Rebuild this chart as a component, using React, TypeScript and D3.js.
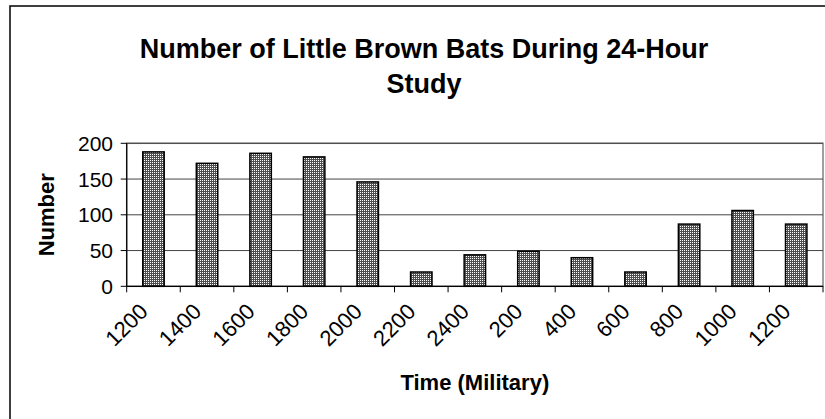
import React from "react";
import * as d3 from "d3";

const categories = ["1200", "1400", "1600", "1800", "2000", "2200", "2400", "200", "400", "600", "800", "1000", "1200 "];
const values = [188, 172, 186, 181, 146, 20, 44, 49, 40, 20, 87, 106, 87];
const yTicks = [0, 50, 100, 150, 200];
const titleLines = ["Number of Little Brown Bats During 24-Hour", "Study"];
const xTitle = "Time (Military)";
const yTitle = "Number";

const W = 825;
const H = 419;
const left = 126.7;
const right = 823;
const top = 143.3;
const bottom = 286.3;
const font = "'Liberation Sans', Arial, sans-serif";

export default function App() {
  const x = d3.scaleBand<string>().domain(categories).range([left, right]).paddingInner(0.6).paddingOuter(0.3);
  const xb = d3.scaleBand<string>().domain(categories).range([left, right]);
  const y = d3.scaleLinear().domain([0, 200]).range([bottom, top]);
  const boundaries = d3.range(categories.length + 1).map((i) => left + i * xb.step());

  return (
    <svg width={W} height={H} style={{ position: "absolute", left: 0, top: 0, background: "#fff" }}>
      <defs>
        <pattern id="dots" width={2} height={2} patternUnits="userSpaceOnUse">
          <rect width={2} height={2} fill="#4e4e4e" />
          <rect x={0} y={0} width={1} height={1} fill="#ffffff" />
        </pattern>
      </defs>
      <rect x={0} y={0} width={W} height={H} fill="#fff" />
      <rect x={10} y={6} width={W + 20} height={H + 20} fill="none" stroke="#000" strokeWidth={1.5} />
      {titleLines.map((t, i) => (
        <text key={i} x={424} y={58 + i * 35} textAnchor="middle" fontFamily={font} fontWeight="bold" fontSize={27} fill="#000">
          {t}
        </text>
      ))}
      <rect x={left} y={top} width={right - left} height={bottom - top} fill="none" stroke="#808080" strokeWidth={1.5} />
      {yTicks.filter((t) => t > 0).map((t) => (
        <line key={t} x1={left} x2={right} y1={y(t)} y2={y(t)} stroke="#444" strokeWidth={1} />
      ))}
      {values.map((v, i) => (
        <rect
          key={i}
          x={x(categories[i])}
          y={y(v)}
          width={x.bandwidth()}
          height={y(0) - y(v)}
          fill="url(#dots)"
          stroke="#000"
          strokeWidth={1.5}
        />
      ))}
      <line x1={left} x2={left} y1={top} y2={bottom} stroke="#000" strokeWidth={1.2} />
      <line x1={left} x2={right} y1={bottom} y2={bottom} stroke="#000" strokeWidth={1.2} />
      {yTicks.map((t) => (
        <g key={t}>
          <line x1={left - 6} x2={left} y1={y(t)} y2={y(t)} stroke="#000" strokeWidth={1} />
          <text x={113} y={y(t)} dy="0.36em" textAnchor="end" fontFamily={font} fontSize={21} fill="#000">
            {t}
          </text>
        </g>
      ))}
      {boundaries.map((b, i) => (
        <line key={i} x1={b} x2={b} y1={bottom} y2={bottom + 6} stroke="#000" strokeWidth={1} />
      ))}
      {categories.map((c, i) => {
        const cx = (xb(c) as number) + xb.bandwidth() / 2;
        return (
          <text
            key={i}
            transform={`translate(${cx - 10},${bottom + 21}) rotate(-45)`}
            textAnchor="end"
            dy="0.36em"
            fontFamily={font}
            fontSize={22}
            fill="#000"
          >
            {c.trim()}
          </text>
        );
      })}
      <text x={(left + right) / 2} y={390} textAnchor="middle" fontFamily={font} fontWeight="bold" fontSize={22} fill="#000">
        {xTitle}
      </text>
      <text
        transform={`translate(54,${(top + bottom) / 2}) rotate(-90)`}
        textAnchor="middle"
        fontFamily={font}
        fontWeight="bold"
        fontSize={22}
        fill="#000"
      >
        {yTitle}
      </text>
    </svg>
  );
}
